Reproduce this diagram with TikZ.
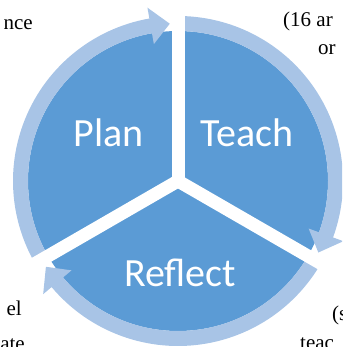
\documentclass[tikz,border=0pt]{standalone}
\usepackage{fontspec}
\setmainfont{Liberation Serif}
\newfontfamily\labelfont{Carlito}
\usetikzlibrary{positioning}
\definecolor{pieblue}{RGB}{91,155,213}
\definecolor{ringblue}{RGB}{168,196,230}

\begin{document}
\begin{tikzpicture}[x=1pt, y=1pt,
  sector/.style={text=white, font=\labelfont\fontsize{40}{48}\selectfont},
  edge text/.style={font=\fontsize{21}{25}\selectfont, inner sep=0pt}]
  \useasboundingbox (0,0) rectangle (342,347);
  \clip (0,0) rectangle (342,347);
  \coordinate (c) at (178,166);
  % pie and ring of arrows
  \fill[pieblue] (c) circle[radius=150];
  \begin{scope}[shift={(c)}]
    \foreach \a/\b/\t in {210/100/93, 90/-20/-27, -30/-140/-147}
      \fill[ringblue] (\a:150) arc[start angle=\a, end angle=\b, radius=150]
        -- (\b:139) -- (\t:157.5) -- (\b:176) -- (\b:165)
        arc[start angle=\b, end angle=\a, radius=165] -- cycle;
  \end{scope}
  \foreach \a in {90,210,330}
    \draw[white, line width=13pt] (c) -- ++(\a:200);
  % labels
  \node[sector] (plan) at (109,214) {Plan};
  \node[sector] (teach) at (247,214) {Teach};
  \node[sector] (reflect) at (180,74) {Reflect};
  % cut-off text round the figure
  \node[edge text, anchor=base east] (nce) at (33,317) {nce};
  \node[edge text, anchor=base west] (num) at (283,320) {(16 ar};
  \node[edge text, anchor=base west] (or) at (318,292) {or};
  \node[edge text, anchor=base east] (el) at (22,31) {el};
  \node[edge text, anchor=base east] (ate) at (25,-4) {ate};
  \node[edge text, anchor=base west] (s) at (332,26) {(s};
  \node[edge text, anchor=base west] (teac) at (300,-2) {teac};
\end{tikzpicture}
\end{document}
